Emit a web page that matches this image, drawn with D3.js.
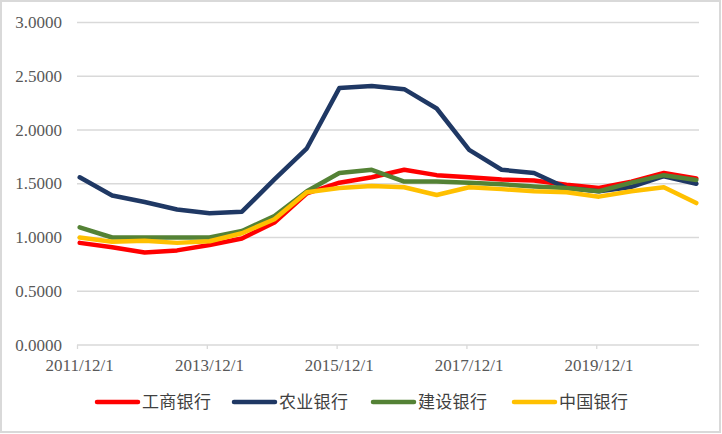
<!DOCTYPE html>
<html><head><meta charset="utf-8">
<script src="https://cdn.jsdelivr.net/npm/d3@7"></script>
<style>
html,body{margin:0;padding:0;background:#fff;}
.serif{font-family:"Liberation Serif","Tinos","Times New Roman","DejaVu Serif",serif;font-size:17px;fill:#595959;}
.cjk{font-family:"Noto Sans CJK SC","Noto Sans CJK JP",sans-serif;font-size:17px;fill:#404040;}
</style>
</head><body>
<svg id="chart" width="722" height="434"></svg>
<script>
const dates = ["2011/12/1","2012/6/1","2012/12/1","2013/6/1","2013/12/1","2014/6/1","2014/12/1","2015/6/1","2015/12/1","2016/6/1","2016/12/1","2017/6/1","2017/12/1","2018/6/1","2018/12/1","2019/6/1","2019/12/1","2020/6/1","2020/12/1","2021/6/1"];
const icbc = [0.95,0.91,0.86,0.88,0.93,0.99,1.14,1.41,1.51,1.56,1.63,1.58,1.56,1.54,1.53,1.49,1.46,1.52,1.60,1.55];
const abc  = [1.56,1.39,1.33,1.26,1.225,1.24,1.54,1.83,2.39,2.41,2.38,2.20,1.815,1.63,1.60,1.46,1.43,1.47,1.57,1.50];
const ccb  = [1.095,1.00,1.00,1.00,1.00,1.06,1.20,1.43,1.60,1.63,1.52,1.52,1.51,1.495,1.475,1.46,1.43,1.51,1.58,1.535];
const boc  = [1.00,0.96,0.97,0.95,0.965,1.04,1.17,1.42,1.46,1.48,1.467,1.395,1.467,1.45,1.43,1.42,1.38,1.43,1.467,1.32];
const seriesNames = ["工商银行","农业银行","建设银行","中国银行"];
const seriesColors = ["#FF0000","#1F3864","#548235","#FFC000"];
const xTickLabels = ["2011/12/1","2013/12/1","2015/12/1","2017/12/1","2019/12/1"];
const yTicks = [0,0.5,1.0,1.5,2.0,2.5,3.0];

const svg = d3.select("#chart");
const gridColor = "#D9D9D9";

// border
svg.append("rect").attr("x",1).attr("y",1).attr("width",719).attr("height",431)
  .attr("fill","#fff").attr("stroke",gridColor).attr("stroke-width",2);

function monthIndex(s){ const p = s.split("/").map(Number); return (p[0]-2011)*12 + (p[1]-12); }

const x = d3.scaleLinear().domain([0,115]).range([77,699]);
const y = d3.scaleLinear().domain([0,3]).range([345,22.5]);

// gridlines
svg.append("g").selectAll("line").data(yTicks.filter(v=>v>0)).join("line")
  .attr("x1",77).attr("x2",699).attr("y1",d=>y(d)).attr("y2",d=>y(d))
  .attr("stroke",gridColor).attr("stroke-width",1.3);

// y axis labels
const yAxis = d3.axisLeft(y).tickValues(yTicks).tickFormat(d3.format(".4f")).tickSize(0).tickPadding(0);
const ga = svg.append("g").attr("transform","translate(62,0)").call(yAxis)
  .attr("font-family",null).attr("font-size",null);
ga.select(".domain").remove();
ga.selectAll("text").attr("class","serif").attr("fill",null).attr("dy","0.3em").attr("text-anchor","end");

// x axis
const tickIdx = xTickLabels.map(monthIndex);
const xAxis = d3.axisBottom(x).tickValues(tickIdx).tickFormat("").tickSize(4);
const gx = svg.append("g").attr("transform","translate(0,345)").call(xAxis);
gx.select(".domain").attr("stroke",gridColor).attr("stroke-width",1.5).attr("d","M77,0H699");
gx.selectAll(".tick line").attr("stroke",gridColor).attr("stroke-width",1.3);
svg.append("g").selectAll("text").data(xTickLabels).join("text")
  .attr("class","serif")
  .attr("x",d=>x(monthIndex(d)+0.5)).attr("y",370.5)
  .attr("text-anchor","middle")
  .text(d=>d);

// lines
const allSeries = [icbc,abc,ccb,boc];
const line = d3.line().x((d,i)=>x(monthIndex(dates[i])+0.5)).y(d=>y(d));
svg.append("g").selectAll("path").data(allSeries).join("path")
  .attr("d",d=>line(d)).attr("fill","none")
  .attr("stroke",(d,i)=>seriesColors[i]).attr("stroke-width",4.5)
  .attr("stroke-linejoin","round").attr("stroke-linecap","round");

// legend
const legX = [97,234,373,514];
const lg = svg.append("g").selectAll("g").data(seriesNames).join("g")
  .attr("transform",(d,i)=>`translate(${legX[i]},402)`);
lg.append("line").attr("x1",0).attr("x2",41).attr("y1",0).attr("y2",0)
  .attr("stroke",(d,i)=>seriesColors[i]).attr("stroke-width",4.5).attr("stroke-linecap","round");
lg.append("text").attr("class","cjk").attr("x",45).attr("y",0).attr("dy","0.36em")
  .attr("letter-spacing",0.3)
  .text(d=>d);
</script>
</body></html>
